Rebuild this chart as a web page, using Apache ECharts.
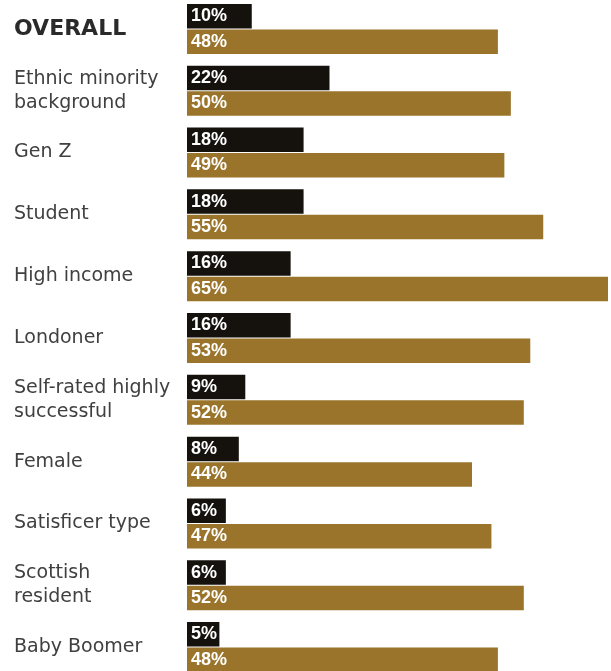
<!DOCTYPE html>
<html><head><meta charset="utf-8">
<script src="https://cdn.jsdelivr.net/npm/echarts@6/dist/echarts.min.js"></script>
<style>html,body{margin:0;padding:0;background:#fff;overflow:hidden;width:611px;height:671px;position:relative}#c{position:absolute;left:0;top:-10px;width:611px;height:700px}</style>
</head><body><div id="c"></div>
<script>
const categories = ["OVERALL","Ethnic minority\nbackground","Gen Z","Student","High income","Londoner","Self-rated highly\nsuccessful","Female","Satisficer type","Scottish\nresident","Baby Boomer"];
const blackValues = [10,22,18,18,16,16,9,8,6,6,5];
const goldValues = [48,50,49,55,65,53,52,44,47,52,48];

const chart = echarts.init(document.getElementById('c'));
const lbl = {show:true, position:'insideLeft', distance:4, color:'#fff', fontFamily:"'Liberation Sans', Arial, sans-serif", fontWeight:'bold', fontSize:18, formatter: p => p.value + '%'};
chart.setOption({
  animation:false,
  grid:{left:187, right:3, top:8, height:680, containLabel:false},
  xAxis:{type:'value', min:0, max:65, show:false},
  yAxis:{type:'category', inverse:true, data:categories,
    axisLine:{show:false}, axisTick:{show:false},
    axisLabel:{align:'left', margin:173, color:'#404040', fontFamily:"'DejaVu Sans', sans-serif", fontSize:19, lineHeight:24,
      formatter: v => v === 'OVERALL' ? '{b|OVERALL}' : v,
      rich:{b:{fontWeight:'bold', fontSize:22, color:'#2a2a2a', fontFamily:"'DejaVu Sans', sans-serif"}}}},
  series:[
    {type:'bar', data:blackValues, barWidth:24.5, barGap:'4%', itemStyle:{color:'#15120e'}, label:lbl},
    {type:'bar', data:goldValues, barWidth:24.5, itemStyle:{color:'#99742a'}, label:lbl}
  ]
});
</script></body></html>
